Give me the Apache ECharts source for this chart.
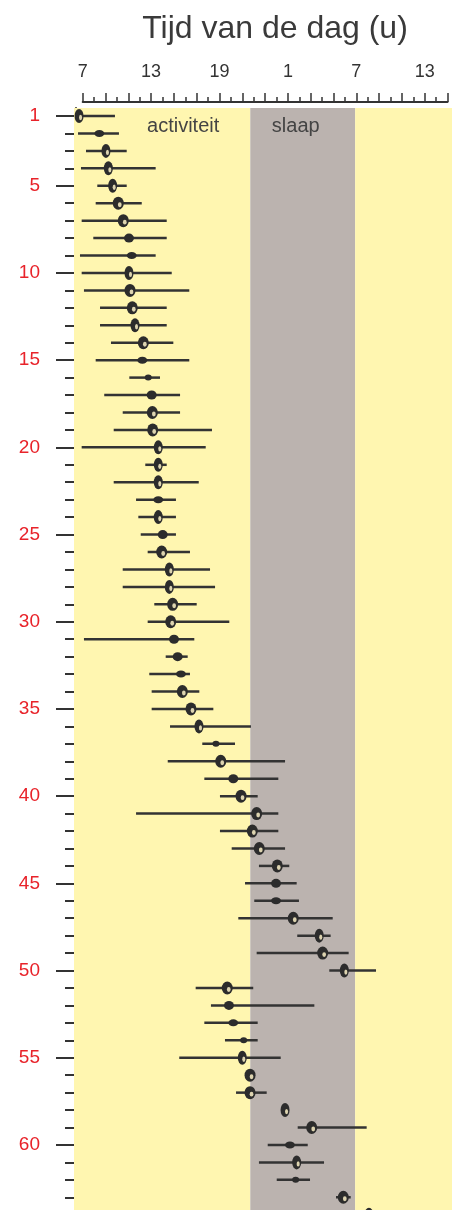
<!DOCTYPE html>
<html>
<head>
<meta charset="utf-8">
<script src="https://cdn.jsdelivr.net/npm/echarts@6/dist/echarts.min.js"></script>
<style>html,body{margin:0;padding:0;background:#fff;}#c{width:452px;height:1210px;}</style>
</head>
<body>
<div id="c"></div>
<script>
// ---- data ----
const days = Array.from({length: 64}, (_, i) => i + 1);
const markHour = [6.68,8.46,9.04,9.25,9.63,10.12,10.56,11.06,11.30,11.06,
  11.15,11.35,11.59,12.32,12.23,12.75,13.05,13.11,13.14,13.63,
  13.63,13.63,13.63,13.63,14.02,13.93,14.60,14.60,14.89,14.72,
  15.01,15.33,15.62,15.74,16.5,17.20,18.69,19.11,20.21,20.89,
  22.26,21.88,22.49,24.07,23.96,23.96,25.47,27.75,28.05,29.95,
  19.68,19.83,20.21,21.12,21.0,21.68,21.68,24.75,27.09,25.18,
  25.77,25.68,29.86,32.11];
const startHour = [6.41,6.59,7.29,6.85,8.28,8.14,6.91,7.93,6.76,6.91,
  7.11,8.52,8.52,9.48,8.14,11.09,8.89,10.51,9.72,6.91,
  12.49,9.72,11.68,11.88,12.09,12.70,10.51,10.51,13.28,12.70,
  7.11,14.28,12.84,13.05,13.05,14.66,17.49,14.46,17.67,19.04,
  11.68,19.04,20.07,22.46,21.24,22.05,20.65,25.82,22.26,28.63,
  16.91,18.25,17.67,19.48,15.47,null,20.45,null,25.86,23.23,
  22.46,24.02,29.22,null];
const endHour = [9.83,10.18,10.86,13.40,10.86,12.18,14.37,14.37,13.40,14.81,
  16.35,14.37,14.37,14.95,16.35,13.78,15.54,15.54,18.34,17.79,
  14.37,17.18,15.18,15.18,15.18,16.41,18.17,18.61,17.0,19.86,
  16.79,16.21,16.41,17.23,18.46,21.76,20.36,24.75,24.16,22.35,
  24.16,24.16,24.75,25.12,25.77,25.97,28.93,28.75,30.33,32.73,
  21.96,27.32,22.35,22.35,24.37,null,23.14,null,31.91,26.74,
  28.17,26.94,30.51,null];
// marker kind: r = ring, v = tall ring, f = filled, h = flat filled, s = small filled
const markKind = ['v','h','v','v','v','r','r','f','h','v',
  'r','r','v','r','h','s','f','r','r','v',
  'v','v','h','v','f','r','v','v','r','r',
  'f','f','h','r','r','v','s','r','f','r',
  'r','r','r','r','f','h','r','v','r','v',
  'r','f','h','s','v','r','r','v','r','h',
  'v','s','r','v'];
const sleepStart = 21.7, sleepEnd = 30.9;
const xTickValues = [7, 13, 19, 25, 31, 37];
const yTickValues = [1, 5, 10, 15, 20, 25, 30, 35, 40, 45, 50, 55, 60];
const titleText = 'Tijd van de dag (u)';

// ---- chart ----
const X0 = 6.237, X1 = 39.395, Y0 = 0.541, Y1 = 63.73;
const FONT = "'Liberation Sans', Arial, Helvetica, sans-serif";
const sizeOf = {r: [11, 13], v: [9, 14], f: [10, 9], h: [10, 7], s: [7, 6]};
const oddHours = [], evenHours = [];
for (let h = 7; h <= 39; h++) (h % 2 ? oddHours : evenHours).push(h);
const allDays = [];
for (let d = 1; d <= 63; d++) allDays.push(d);

const rangeData = [];
days.forEach((d, i) => { if (startHour[i] != null) rangeData.push([startHour[i], endHour[i], d]); });
const markData = days.map((d, i) => ({value: [markHour[i], d], symbolSize: sizeOf[markKind[i]]}));
const hiData = [];
days.forEach((d, i) => {
  const k = markKind[i];
  if (k === 'r' || k === 'v') {
    const s = sizeOf[k];
    hiData.push({value: [markHour[i], d], symbolSize: [s[0] * 0.34, s[1] * 0.38], symbolOffset: [1.5, 1.5]});
  }
});

const chart = echarts.init(document.getElementById('c'), null, {renderer: 'canvas'});
chart.setOption({
  animation: false,
  title: {text: titleText, left: 270, textAlign: 'center', top: 8,
    textStyle: {fontFamily: FONT, fontSize: 32, fontWeight: 'normal', color: '#3a3a3a'}},
  grid: [
    {left: 74, right: 0, top: 108, bottom: 0},
    {left: 82.7, width: 364.8, top: 101, height: 1}
  ],
  xAxis: [
    {gridIndex: 0, type: 'value', min: X0, max: X1, show: false},
    {gridIndex: 1, type: 'value', position: 'top', min: 7, max: 39,
      axisLine: {lineStyle: {color: '#333', width: 2}},
      axisTick: {customValues: oddHours, length: 9, lineStyle: {color: '#333', width: 1.5}},
      axisLabel: {customValues: xTickValues, formatter: v => String(v % 24), fontFamily: FONT, fontSize: 18, color: '#333', margin: 20},
      splitLine: {show: false}},
    {gridIndex: 1, type: 'value', position: 'top', min: 7, max: 39,
      axisLine: {show: false},
      axisTick: {customValues: evenHours, length: 4, lineStyle: {color: '#333', width: 1.5}},
      axisLabel: {show: false}, splitLine: {show: false}}
  ],
  yAxis: [
    {gridIndex: 0, type: 'value', position: 'left', min: Y0, max: Y1, inverse: true, offset: -2,
      axisLine: {show: true, lineStyle: {color: '#333', width: 2}},
      axisTick: {show: true, customValues: yTickValues, length: 20, lineStyle: {color: '#333', width: 2}},
      axisLabel: {customValues: yTickValues, fontFamily: FONT, fontSize: 19, color: '#e8232a', margin: 36},
      splitLine: {show: false}},
    {gridIndex: 0, type: 'value', position: 'left', min: Y0, max: Y1, inverse: true, offset: -2,
      axisLine: {show: false},
      axisTick: {show: true, customValues: allDays, length: 11, lineStyle: {color: '#333', width: 2}},
      axisLabel: {show: false}, splitLine: {show: false}},
    {gridIndex: 1, type: 'value', show: false}
  ],
  series: [
    {
      type: 'custom', xAxisIndex: 0, yAxisIndex: 0, data: rangeData, z: 3,
      renderItem: function (params, api) {
        const p1 = api.coord([api.value(0), api.value(2)]);
        const p2 = api.coord([api.value(1), api.value(2)]);
        return {type: 'line', shape: {x1: p1[0], y1: p1[1], x2: p2[0], y2: p2[1]},
          style: {stroke: '#333', lineWidth: 2.5}};
      },
      markArea: {
        silent: true,
        data: [
          [{xAxis: X0, itemStyle: {color: '#fff6b0'},
            label: {show: true, position: 'insideTop', formatter: 'activiteit', offset: [21, 3],
              fontFamily: FONT, fontSize: 20, color: '#444'}}, {xAxis: sleepStart}],
          [{xAxis: sleepStart, itemStyle: {color: '#bbb3af'},
            label: {show: true, position: 'insideTop', formatter: 'slaap', offset: [-7, 3],
              fontFamily: FONT, fontSize: 20, color: '#444'}}, {xAxis: sleepEnd}],
          [{xAxis: sleepEnd, itemStyle: {color: '#fff6b0'}, label: {show: false}}, {xAxis: X1}]
        ]
      }
    },
    {type: 'scatter', xAxisIndex: 0, yAxisIndex: 0, data: markData, symbol: 'circle', z: 4,
      itemStyle: {color: '#2c2c2c', opacity: 1}, clip: false},
    {type: 'scatter', xAxisIndex: 0, yAxisIndex: 0, data: hiData, symbol: 'circle', z: 5,
      itemStyle: {color: '#ddd4b0', opacity: 1}, clip: false}
  ]
});
</script>
</body>
</html>
